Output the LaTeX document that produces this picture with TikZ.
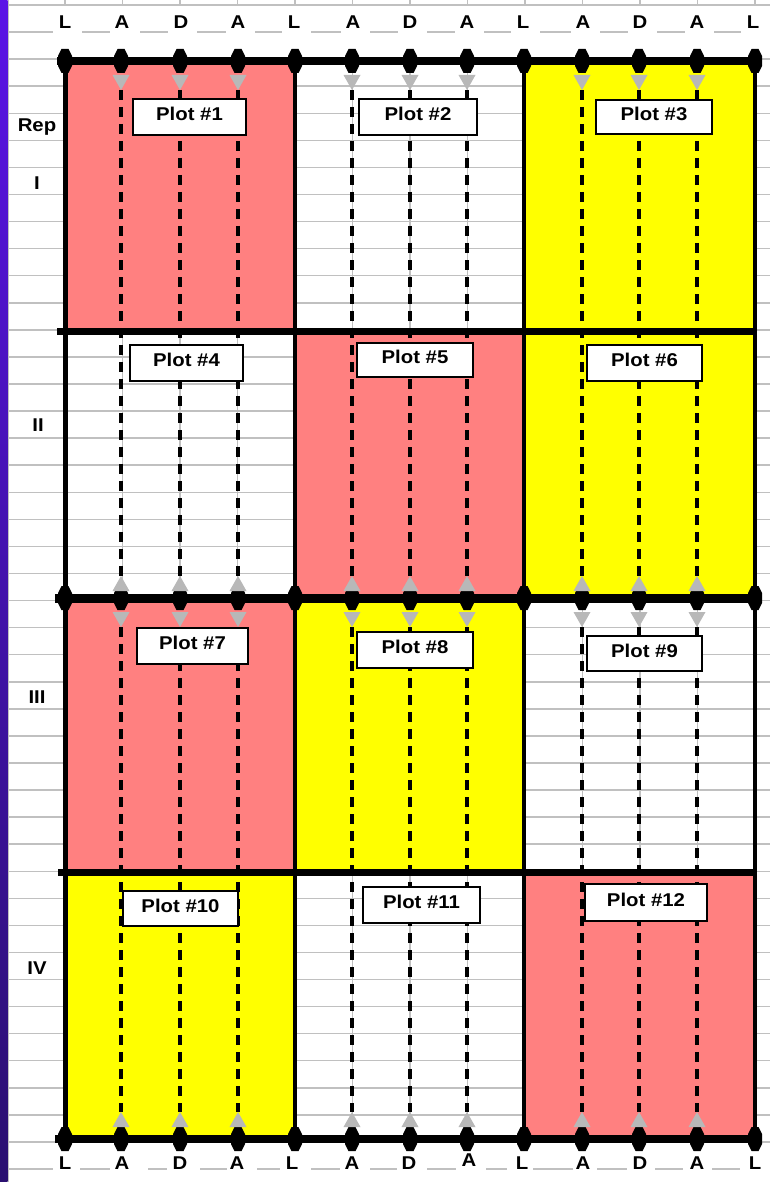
\documentclass[tikz,border=0pt]{standalone}
\usepackage{fontspec}
\setmainfont{Liberation Sans}
\newfontfamily\lblfont[FakeStretch=1.1]{Liberation Sans}
\definecolor{salmon}{HTML}{FF8080}
\definecolor{yel}{HTML}{FFFF00}
\definecolor{gridgray}{HTML}{C0C0C0}
\definecolor{trigray}{HTML}{B8B8B8}
\definecolor{purpA}{HTML}{5A14E6}
\definecolor{purpB}{HTML}{2A1070}
\begin{document}
\begin{tikzpicture}[x=1pt,y=-1pt,
  gridline/.style={draw=gridgray, line width=1.5pt},
  blackline/.style={draw=black, line cap=butt},
  dashline/.style={draw=black, line width=3.5pt, dash pattern=on 10pt off 7pt},
  plotlabel/.style={draw=black, line width=1.6pt, fill=white, inner sep=0pt,
    font=\lblfont\bfseries\fontsize{18.5}{18.5}\selectfont, text height=13pt, text depth=6pt},
  axlabel/.style={font=\lblfont\bfseries\fontsize{18.5}{18.5}\selectfont, inner sep=0pt},
  hexm/.pic={\fill[black] (-3.5,-12) -- (3.5,-12) -- (7,-5) -- (7,5) -- (3.5,12) -- (-3.5,12) -- (-7,5) -- (-7,-5) -- cycle;},
  trid/.pic={\fill[trigray] (-8.5,0) -- (8.5,0) -- (0,15) -- cycle;},
  triu/.pic={\fill[trigray] (-8.5,0) -- (8.5,0) -- (0,-15) -- cycle;},
]
\useasboundingbox (0,0) rectangle (770,1182);
\fill[white] (0,0) rectangle (770,1182);
% purple side bar
\shade[top color=purpA, bottom color=purpB] (0,0) rectangle (7.5,1182);
% spreadsheet grid
\draw[gridline] (8.5,0) -- (8.5,1182);
\foreach \k in {0,2,3,...,42} \draw[gridline] (8.5,{5+27.07*\k}) -- (770,{5+27.07*\k});
\foreach \k in {0,...,12} {
  \draw[gridline] ({65+57.5*\k},0) -- ({65+57.5*\k},5);
  \draw[gridline] ({65+57.5*\k},59) -- ({65+57.5*\k},1142);
}
% broken header / footer lines
\foreach \a/\b in {8.5/53,82/110,140/168,197/226,255/282,311/341,370/398,427/455,484/511,540/571,600/628,657/685,714/741}
  \draw[gridline] (\a,32) -- (\b,32);
\foreach \a/\b in {8.5/53,80/110,148/167,200/227,257/280,311/340,370/397,427/456,486/507,533/573,597/627,655/683,712/740}
  \draw[gridline] (\a,1169) -- (\b,1169);
% plot fills
\fill[salmon] (65,61) rectangle (295,331);
\fill[yel] (524,61) rectangle (755,331);
\fill[salmon] (295,331) rectangle (524,598);
\fill[yel] (524,331) rectangle (755,598);
\fill[salmon] (65,598) rectangle (295,872);
\fill[yel] (295,598) rectangle (524,872);
\fill[yel] (65,872) rectangle (295,1139);
\fill[salmon] (524,872) rectangle (755,1139);
% dashed row lines
\foreach \x [count=\i] in {121,180,238,352,410,467,582,639,697} {
  \coordinate (s\i) at (\x,90);
  \coordinate (e\i) at (\x,576);
  \coordinate (u\i) at (\x,627);
  \coordinate (w\i) at (\x,1112);
  \draw[dashline] (s\i) -- (e\i);
  \draw[dashline] (u\i) -- (w\i);
}
% black plot borders
\draw[blackline, line width=8pt] (57,61) -- (757,61);
\draw[blackline, line width=7pt] (57,331) -- (757,331);
\draw[blackline, line width=9pt] (55,598) -- (762,598);
\draw[blackline, line width=7pt] (58,872) -- (757,872);
\draw[blackline, line width=8pt] (55,1139) -- (757,1139);
\foreach \x in {65.5,295,524,755}
  \draw[blackline, line width=4.5pt] (\x,61) -- (\x,1139);
% markers
\foreach \y in {61,598,1139}
  \foreach \x in {65,121,180,238,295,352,410,467,524,582,639,697,755}
    \pic at (\x,\y) {hexm};
\foreach \x in {121,180,238,352,410,467,582,639,697} {
  \pic at (\x,75) {trid};
  \pic at (\x,591) {triu};
  \pic at (\x,612) {trid};
  \pic at (\x,1127) {triu};
}
% plot labels
\node[plotlabel, minimum width=113pt, minimum height=36pt] (p1) at (189.5,117) {Plot \#1};
\node[plotlabel, minimum width=118pt, minimum height=36pt] (p2) at (418,117) {Plot \#2};
\node[plotlabel, minimum width=116pt, minimum height=34pt] (p3) at (654,117) {Plot \#3};
\node[plotlabel, minimum width=113pt, minimum height=36pt] (p4) at (186.5,363) {Plot \#4};
\node[plotlabel, minimum width=116pt, minimum height=34pt] (p5) at (415,360) {Plot \#5};
\node[plotlabel, minimum width=115pt, minimum height=36pt] (p6) at (644.5,363) {Plot \#6};
\node[plotlabel, minimum width=111pt, minimum height=36pt] (p7) at (192.5,646) {Plot \#7};
\node[plotlabel, minimum width=116pt, minimum height=36pt] (p8) at (415,650) {Plot \#8};
\node[plotlabel, minimum width=115pt, minimum height=35pt] (p9) at (644.5,653.5) {Plot \#9};
\node[plotlabel, minimum width=115pt, minimum height=35pt] (p10) at (180.5,908.5) {Plot \#10};
\node[plotlabel, minimum width=117pt, minimum height=36pt] (p11) at (421.5,905) {Plot \#11};
\node[plotlabel, minimum width=122pt, minimum height=37pt] (p12) at (646,902.5) {Plot \#12};
% column letters
\foreach \x/\t [count=\i] in {65/L,122/A,181/D,238/A,294/L,353/A,410/D,467/A,523/L,583/A,640/D,697/A,753/L}
  \node[axlabel] (top\i) at (\x,22.5) {\t};
\foreach \x/\yy/\t [count=\i] in {65/1163/L,122/1163/A,180/1163/D,237/1163/A,292/1163/L,352/1163/A,409/1163/D,469/1160/A,522/1163/L,583/1163/A,640/1163/D,697/1163/A,755/1163/L}
  \node[axlabel] (bot\i) at (\x,\yy) {\t};
% rep labels
\node[axlabel] (rep) at (37,127) {Rep};
\node[axlabel] (r1) at (37,183) {I};
\node[axlabel] (r2) at (38,425) {II};
\node[axlabel] (r3) at (37,697) {III};
\node[axlabel] (r4) at (37,968) {IV};
\end{tikzpicture}
\end{document}
